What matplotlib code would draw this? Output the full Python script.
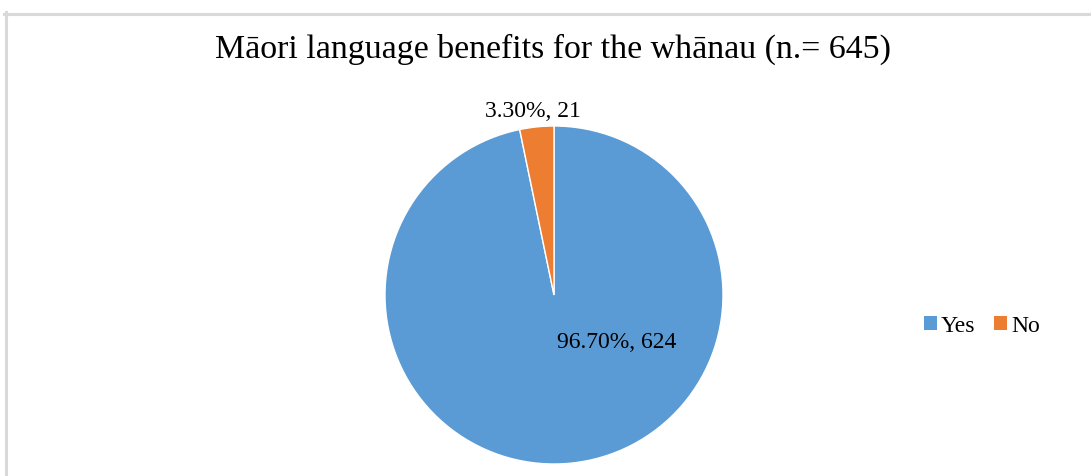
import matplotlib
matplotlib.use("Agg")
import matplotlib.pyplot as plt
from matplotlib.patches import Patch
from matplotlib.lines import Line2D

title = "Māori language benefits for the whānau (n.= 645)"
categories = ["Yes", "No"]
counts = [624, 21]
percents = ["96.70%", "3.30%"]
colors = ["#5B9BD5", "#ED7D31"]

plt.rcParams['font.family'] = ['Liberation Serif', 'DejaVu Serif']

W, H = 1091, 477
fig = plt.figure(figsize=(W / 100, H / 100), dpi=100)

# frame lines (top and left, partially visible)
fig.add_artist(Line2D([5.5 / W, 5.5 / W], [0, 1 - 13 / H], color="#d9d9d9", lw=2.2, transform=fig.transFigure))
fig.add_artist(Line2D([4 / W, 1], [1 - 14.5 / H, 1 - 14.5 / H], color="#d9d9d9", lw=2.2, transform=fig.transFigure))

cx, cy, r = 554, 296, 169
ax = fig.add_axes([(cx - r) / W, (H - cy - r) / H, 2 * r / W, 2 * r / H])
ax.pie(counts, colors=colors, startangle=90, counterclock=False, radius=1,
       wedgeprops=dict(edgecolor="white", linewidth=1.0))
ax.set_xlim(-1, 1)
ax.set_ylim(-1, 1)
ax.set_aspect("equal")
ax.axis("off")

label_pos = [(0.37, -0.275), (-0.125, 1.093)]
for (x, y), p, c in zip(label_pos, percents, counts):
    ax.text(x, y, f"{p}, {c}", ha="center", va="center", fontsize=17, color="#000000", clip_on=False)

fig.text(553 / W, 1 - 57.5 / H, title, ha="center", va="baseline", fontsize=24.4)

handles = [Patch(facecolor=c, edgecolor="none") for c in colors]
fig.legend(handles, categories, loc="center", bbox_to_anchor=(982 / W, 1 - 327 / H), ncol=2,
           frameon=False, fontsize=17, handlelength=0.55, handleheight=0.55, handletextpad=0.17,
           columnspacing=0.8)

fig.savefig("out.png", dpi=100, facecolor="white")
